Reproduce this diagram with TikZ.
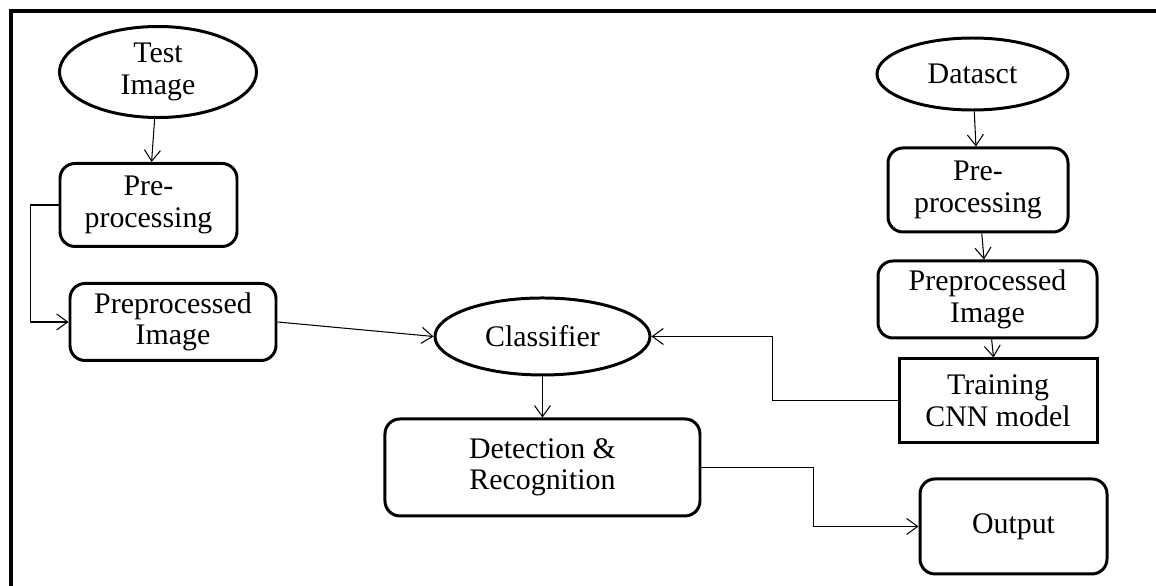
\documentclass[tikz,border=0pt]{standalone}
\usepackage{fontspec}
\setmainfont{Liberation Serif}
\usepackage{tikz}
\usetikzlibrary{shapes.geometric,arrows.meta,positioning}

\begin{document}
\begin{tikzpicture}[
    node distance=1cm,
    stage/.style={rectangle, draw, line width=1.7pt, rounded corners=0.3cm, align=center, inner sep=2pt, font=\fontsize{17}{18}\selectfont},
    source/.style={ellipse, draw, line width=1.7pt, align=center, inner sep=0pt, font=\fontsize{17}{18}\selectfont},
    model/.style={rectangle, draw, line width=1.7pt, align=center, inner sep=2pt, font=\fontsize{17}{18}\selectfont},
    arrow/.style={-{Straight Barb[length=2.2mm,width=3.2mm]}, line width=0.6pt}
]
    % Frame
    \useasboundingbox (0,0) rectangle (23.12,-11.72);
    \draw[line width=2.2pt] (0.22,-11.8) -- (0.22,-0.22) -- (23.2,-0.22);

    % Test branch
    \node[source, minimum width=3.94cm, minimum height=1.82cm] (testimg) at (3.16,-1.44) {Test\\Image};
    \node[stage, minimum width=3.54cm, minimum height=1.66cm, below=0.86cm of testimg, xshift=-0.19cm] (prepl) {Pre-\\processing};
    \node[stage, minimum width=4.12cm, minimum height=1.54cm, below=0.68cm of prepl, xshift=0.49cm] (prepdl) {Preprocessed\\Image};

    % Classifier and result
    \node[source, minimum width=4.3cm, minimum height=1.54cm, right=3.12cm of prepdl, yshift=-0.29cm] (classifier) {Classifier};
    \node[stage, minimum width=6.3cm, minimum height=1.94cm, below=0.82cm of classifier] (detect) {Detection \&\\Recognition};

    % Training branch
    \node[source, minimum width=3.82cm, minimum height=1.44cm] (dataset) at (19.45,-1.48) {Datasct};
    \node[stage, minimum width=3.6cm, minimum height=1.68cm, below=0.7cm of dataset, xshift=0.11cm] (prepr) {Pre-\\processing};
    \node[stage, minimum width=4.38cm, minimum height=1.54cm, below=0.52cm of prepr, xshift=0.19cm] (prepdr) {Preprocessed\\Image};
    \node[model, minimum width=3.96cm, minimum height=1.68cm, below=0.36cm of prepdr, xshift=0.21cm] (training) {Training\\CNN model};
    \node[stage, minimum width=3.74cm, minimum height=1.9cm, below=0.66cm of training, xshift=0.31cm] (output) {Output};

    % Arrows
    \draw[arrow] (testimg) -- (prepl);
    \draw[arrow] (prepl.west) -- ++(-0.56,0) |- (prepdl.west);
    \draw[arrow] (prepdl.east) -- (classifier.west);
    \draw[arrow] (classifier) -- (detect);
    \draw[arrow] (dataset) -- (prepr);
    \draw[arrow] (prepr) -- (prepdr);
    \draw[arrow] (prepdr) -- (training);
    \draw[arrow] (training.west) -- ++(-2.5,0) |- (classifier.east);
    \draw[arrow] (detect.east) -- ++(2.24,0) |- (output.west);
\end{tikzpicture}
\end{document}
